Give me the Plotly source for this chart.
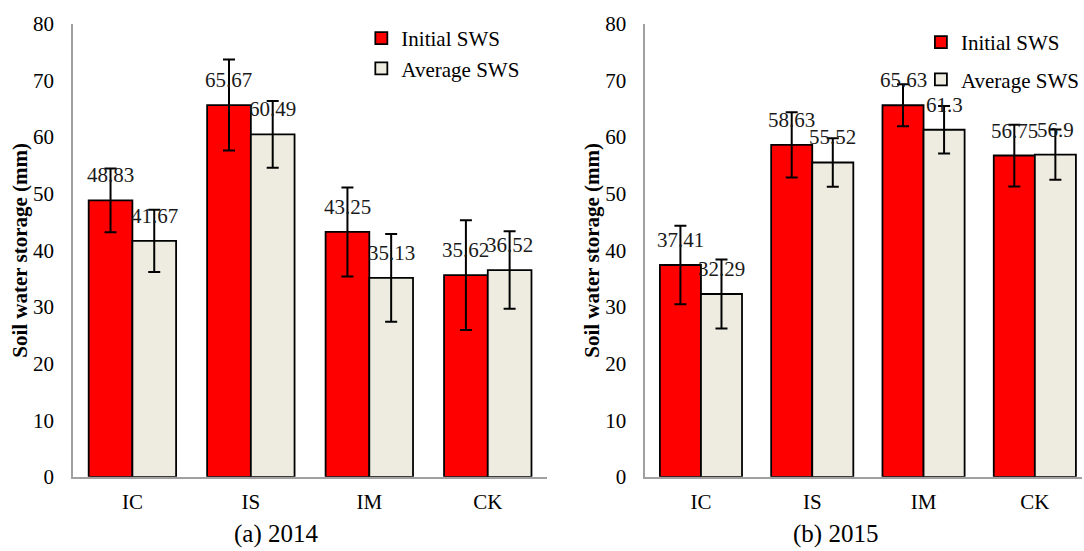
import plotly.graph_objects as go

categories = ["IC", "IS", "IM", "CK"]
series_names = ["Initial SWS", "Average SWS"]

init_2014 = [48.83, 65.67, 43.25, 35.62]
avg_2014 = [41.67, 60.49, 35.13, 36.52]
init_2014_err = [5.65, 8.05, 7.85, 9.7]
avg_2014_err = [5.5, 5.9, 7.75, 6.85]

init_2015 = [37.41, 58.63, 65.63, 56.75]
avg_2015 = [32.29, 55.52, 61.3, 56.9]
init_2015_err = [6.95, 5.75, 3.7, 5.45]
avg_2015_err = [6.1, 4.3, 4.2, 4.45]

subtitles = ["(a) 2014", "(b) 2015"]
y_title = "Soil water storage (mm)"
y_ticks = [0, 10, 20, 30, 40, 50, 60, 70, 80]

RED = "#FF0000"
BEIGE = "#EEECE1"
FONT = "Liberation Serif"
FS = 21
W, H = 1084, 551
BARGAP = 0.262

fig = go.Figure()

panels = [
    (init_2014, avg_2014, init_2014_err, avg_2014_err, "x", "y", "legend"),
    (init_2015, avg_2015, init_2015_err, avg_2015_err, "x2", "y2", "legend2"),
]

for (ini, avg, ie, ae, xa, ya, lg) in panels:
    for name, vals, errs, col in [(series_names[0], ini, ie, RED), (series_names[1], avg, ae, BEIGE)]:
        fig.add_trace(go.Bar(
            x=categories, y=vals, name=name, xaxis=xa, yaxis=ya, legend=lg,
            legendgroup=name,
            marker=dict(color=col, line=dict(color="black", width=1.8)),
            error_y=dict(type="data", array=errs, visible=True, color="black", thickness=2, width=6),
            showlegend=True, hoverinfo="skip",
        ))

# value labels
off = (1 - BARGAP) / 4
for (ini, avg, ie, ae, xa, ya, lg) in panels:
    for k, vals in enumerate([ini, avg]):
        sgn = -1 if k == 0 else 1
        for i, v in enumerate(vals):
            fig.add_annotation(
                x=i + sgn * off, y=v, xref=xa, yref=ya, text=str(v),
                showarrow=False, yanchor="bottom", xanchor="center", yshift=11,
                font=dict(family=FONT, size=FS, color="#1a1a1a"),
            )

# subtitles
for xc, t in zip([276.7, 836.7], subtitles):
    fig.add_annotation(x=xc / W, y=(H - 534) / H, xref="paper", yref="paper", text=t,
                       showarrow=False, xanchor="center", yanchor="middle",
                       font=dict(family=FONT, size=25, color="black"))

ybot = (H - 476.8) / H
ytop = (H - 23.9) / H

axis_common = dict(showline=True, linecolor="#A0A0A0", linewidth=1.8, showgrid=False,
                   zeroline=False, ticks="", automargin=False,
                   tickfont=dict(family=FONT, size=FS, color="black"))

ytitle = dict(text=y_title, standoff=0,
              font=dict(family=FONT, size=FS, color="black", weight="bold"))

fig.update_layout(
    width=W, height=H, margin=dict(l=0, r=0, t=0, b=0),
    paper_bgcolor="white", plot_bgcolor="white",
    barmode="group", bargap=BARGAP, bargroupgap=0,
    font=dict(family=FONT, size=FS, color="black"),
    xaxis=dict(domain=[73.3 / W, 548 / W], range=[-0.5, 3.5], anchor="y",
               type="category", ticklabelstandoff=5, **axis_common),
    xaxis2=dict(domain=[646.5 / W, 1.0], range=[-0.5, -0.5 + 437.5 / 111.5], anchor="y2",
                type="category", ticklabelstandoff=5, **axis_common),
    yaxis=dict(domain=[ybot, ytop], range=[0, 80], tickvals=y_ticks, anchor="x",
               ticklabelstandoff=13, title=ytitle, **axis_common),
    yaxis2=dict(domain=[ybot, ytop], range=[0, 80], tickvals=y_ticks, anchor="x2",
                ticklabelstandoff=13, title=ytitle, **axis_common),
    legend=dict(x=362 / W, y=(H - 18) / H, xanchor="left", yanchor="top",
                bgcolor="rgba(0,0,0,0)", font=dict(family=FONT, size=FS, color="black"),
                traceorder="grouped", tracegroupgap=0),
    legend2=dict(x=922.6 / W, y=(H - 22) / H, xanchor="left", yanchor="top",
                 bgcolor="rgba(0,0,0,0)", font=dict(family=FONT, size=FS, color="black"),
                 traceorder="grouped", tracegroupgap=7),
)

fig.write_html("out.html", config={"displayModeBar": False},
               post_script="document.body.style.margin='0';")
